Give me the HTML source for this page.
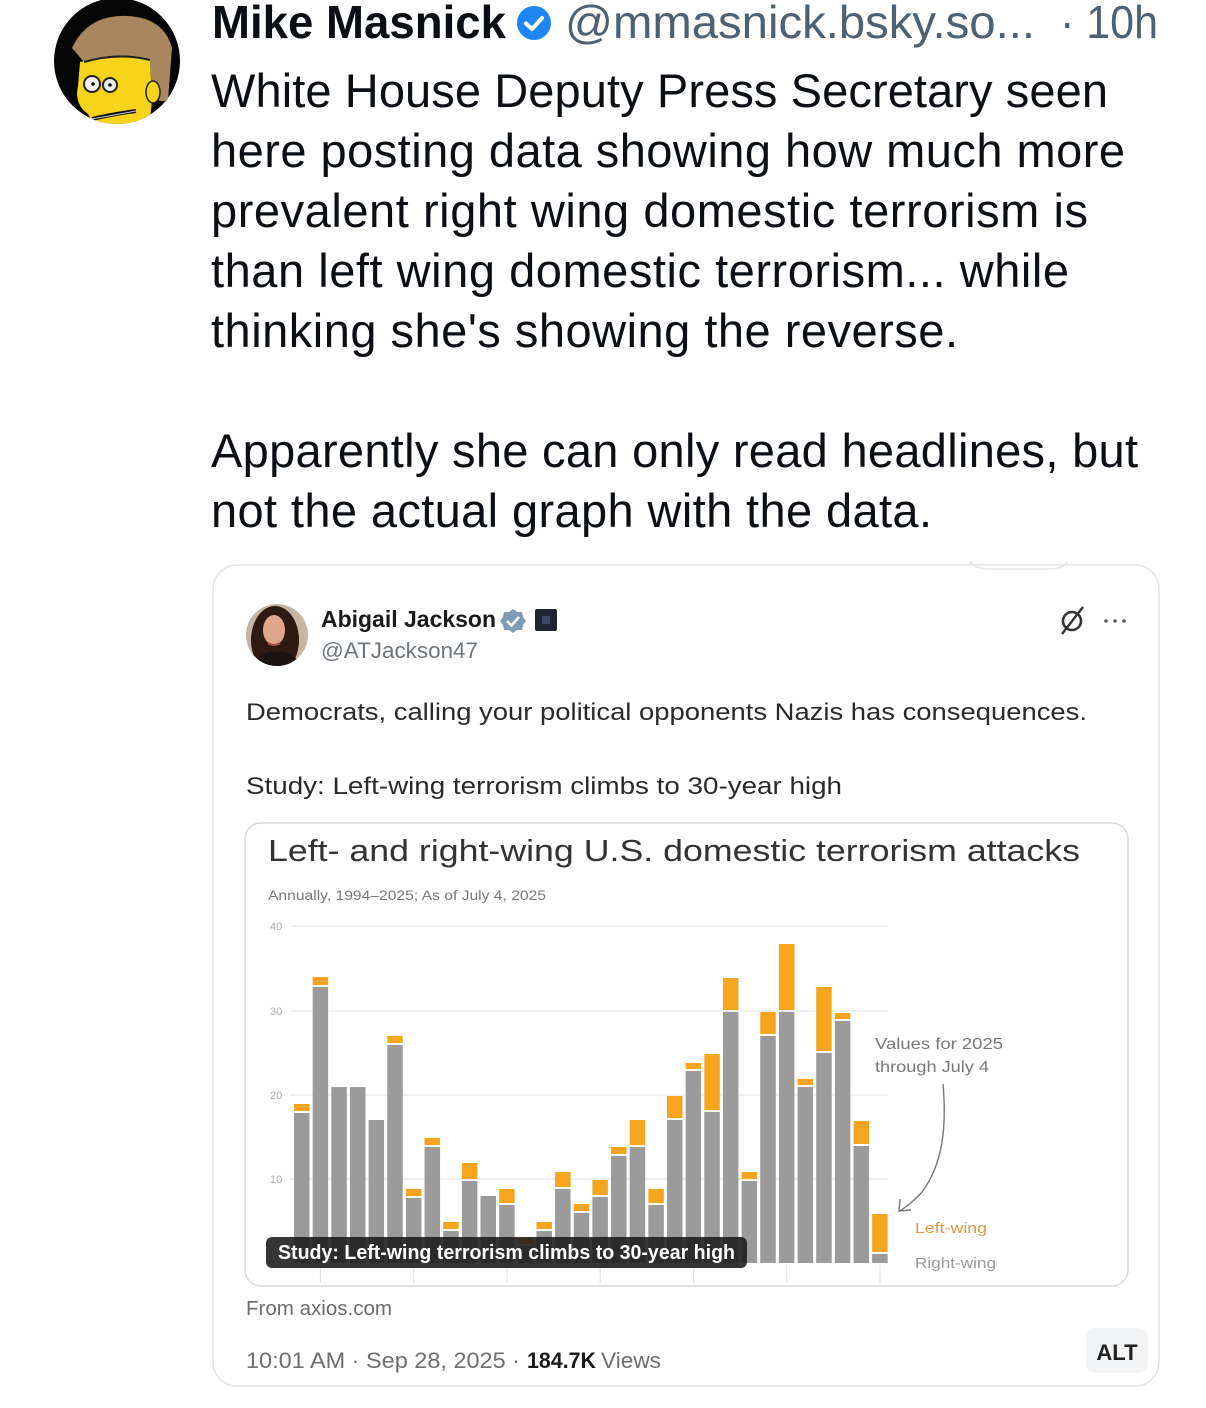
<!DOCTYPE html>
<html><head><meta charset="utf-8"><style>
html,body{margin:0;padding:0;background:#fff;}
svg{display:block;}
text{font-family:"Liberation Sans",Arial,sans-serif;}
</style></head><body>
<svg width="1206" height="1408" viewBox="0 0 1206 1408" xmlns="http://www.w3.org/2000/svg">
<defs>
<clipPath id="av1"><circle cx="117" cy="61" r="63"/></clipPath>
<clipPath id="av2"><circle cx="277" cy="635" r="31"/></clipPath>
</defs>
<rect width="1206" height="1408" fill="#fff"/>

<!-- Mike avatar -->
<g clip-path="url(#av1)">
<rect x="50" y="-5" width="135" height="135" fill="#050505"/>
<path d="M72 48 Q88 14 128 16 Q164 18 172 48 L168 100 Q158 104 152 94 L150 60 Q118 50 84 62 Z" fill="#a8865e"/>
<path d="M80 62 Q118 52 150 60 L152 100 Q150 126 144 142 L98 142 Q94 124 88 114 Q74 104 78 86 Z" fill="#f6d41a"/>
<ellipse cx="153" cy="92" rx="7" ry="11" fill="#f6d41a" stroke="#222" stroke-width="1.5"/>
<circle cx="92" cy="84" r="8" fill="#eee" stroke="#222" stroke-width="2"/>
<circle cx="110" cy="85" r="7" fill="#eee" stroke="#222" stroke-width="2"/>
<circle cx="93" cy="84" r="1.8" fill="#111"/>
<circle cx="110" cy="85" r="1.8" fill="#111"/>
<path d="M92 119 Q113 114 136 111" stroke="#111" stroke-width="4" fill="none"/>
<path d="M92 119 L136 111" stroke="#ccc" stroke-width="1" fill="none"/>
<path d="M84 62 Q118 52 150 60" stroke="#222" stroke-width="2" fill="none"/>
</g>

<!-- Header -->
<text x="212" y="38" font-size="46" font-weight="bold" fill="#0b0f14" textLength="294" lengthAdjust="spacingAndGlyphs">Mike Masnick</text>
<circle cx="534" cy="23" r="17" fill="#1c86f2"/>
<path d="M526 23.5 L532 29 L542 18" stroke="#fff" stroke-width="4" fill="none" stroke-linecap="round" stroke-linejoin="round"/>
<text x="565" y="38" font-size="46" fill="#4d6074" textLength="470" lengthAdjust="spacingAndGlyphs">@mmasnick.bsky.so...</text>
<text x="1060" y="38" font-size="46" fill="#4d6074" textLength="98" lengthAdjust="spacingAndGlyphs">· 10h</text>

<!-- Body text -->
<g font-size="47" fill="#0b0f14">
<text x="211" y="107" textLength="897" lengthAdjust="spacing">White House Deputy Press Secretary seen</text>
<text x="211" y="167" textLength="914" lengthAdjust="spacing">here posting data showing how much more</text>
<text x="211" y="227" textLength="877" lengthAdjust="spacing">prevalent right wing domestic terrorism is</text>
<text x="211" y="287" textLength="858" lengthAdjust="spacing">than left wing domestic terrorism... while</text>
<text x="211" y="347" textLength="747" lengthAdjust="spacing">thinking she's showing the reverse.</text>
<text x="211" y="467" textLength="927" lengthAdjust="spacing">Apparently she can only read headlines, but</text>
<text x="211" y="527" textLength="721" lengthAdjust="spacing">not the actual graph with the data.</text>
</g>

<!-- Outer card -->
<path d="M970 562 Q975 569 990 569 L1048 569 Q1063 569 1067 562" stroke="#e6e6e6" stroke-width="1.5" fill="none"/>
<rect x="213" y="565" width="946" height="821" rx="24" fill="none" stroke="#e3e3e3" stroke-width="1.5"/>

<!-- Abigail avatar -->
<g clip-path="url(#av2)">
<rect x="240" y="600" width="75" height="75" fill="#c8b4a2"/>
<ellipse cx="275" cy="640" rx="24" ry="34" fill="#2e1a11"/>
<ellipse cx="274" cy="630" rx="11" ry="15" fill="#dfa88d"/>
<path d="M250 668 Q262 650 276 652 Q292 650 304 668 Z" fill="#1c1414"/>
<path d="M268 643 Q274 647 280 643" stroke="#b04a45" stroke-width="2" fill="none"/>
</g>
<text x="321" y="627" font-size="23" font-weight="bold" fill="#1a1a1a" textLength="175" lengthAdjust="spacingAndGlyphs">Abigail Jackson</text>
<path d="M513 609 L517 612 L522 612 L523 617 L526 621 L523 625 L522 630 L517 630 L513 633 L509 630 L504 630 L503 625 L500 621 L503 617 L504 612 L509 612 Z" fill="#7f9ab5"/>
<path d="M507 621 L511.5 625.5 L519 617" stroke="#fff" stroke-width="2.5" fill="none"/>
<rect x="535" y="609" width="22" height="22" rx="2" fill="#1d2535"/>
<rect x="542" y="616" width="8" height="8" fill="#3a4a66"/>
<text x="321" y="658" font-size="22" fill="#6e767d" textLength="157" lengthAdjust="spacingAndGlyphs">@ATJackson47</text>
<circle cx="1072" cy="621" r="9" fill="none" stroke="#333" stroke-width="2.6"/>
<path d="M1062 634 L1083 607" stroke="#333" stroke-width="2.4"/>
<g fill="#555"><circle cx="1106" cy="621" r="1.8"/><circle cx="1115" cy="621" r="1.8"/><circle cx="1124" cy="621" r="1.8"/></g>

<text x="246" y="720" font-size="24" fill="#2a2a2a" textLength="841" lengthAdjust="spacingAndGlyphs">Democrats, calling your political opponents Nazis has consequences.</text>
<text x="246" y="794" font-size="24" fill="#2a2a2a" textLength="596" lengthAdjust="spacingAndGlyphs">Study: Left-wing terrorism climbs to 30-year high</text>

<!-- Inner chart card -->
<rect x="245" y="823" width="883" height="463" rx="16" fill="#fff" stroke="#dadada" stroke-width="1.5"/>
<text x="268" y="861" font-size="31" fill="#333" textLength="812" lengthAdjust="spacingAndGlyphs">Left- and right-wing U.S. domestic terrorism attacks</text>
<text x="268" y="900" font-size="14" fill="#777" textLength="278" lengthAdjust="spacingAndGlyphs">Annually, 1994–2025; As of July 4, 2025</text>

<!-- gridlines -->
<g stroke="#ebebeb" stroke-width="1.5">
<line x1="290" y1="926" x2="888" y2="926"/>
<line x1="290" y1="1011" x2="888" y2="1011"/>
<line x1="290" y1="1095" x2="888" y2="1095"/>
<line x1="290" y1="1179" x2="888" y2="1179"/>
</g>
<g font-size="11" fill="#aaa">
<text x="270" y="930">40</text>
<text x="270" y="1015">30</text>
<text x="270" y="1099">20</text>
<text x="270" y="1183">10</text>
</g>
<g stroke="#e3e3e3" stroke-width="1.2">
<line x1="320.5" y1="1265" x2="320.5" y2="1283"/>
<line x1="413.7" y1="1265" x2="413.7" y2="1283"/>
<line x1="507" y1="1265" x2="507" y2="1283"/>
<line x1="600.2" y1="1265" x2="600.2" y2="1283"/>
<line x1="693.5" y1="1265" x2="693.5" y2="1283"/>
<line x1="786.7" y1="1265" x2="786.7" y2="1283"/>
<line x1="880" y1="1265" x2="880" y2="1283"/>
</g>

<!-- bars -->
<g fill="#9b9b9b">
<rect x="294" y="1113" width="15.5" height="150"/>
<rect x="312.65" y="987" width="15.5" height="276"/>
<rect x="331.3" y="1087" width="15.5" height="176"/>
<rect x="349.95" y="1087" width="15.5" height="176"/>
<rect x="368.6" y="1120" width="15.5" height="143"/>
<rect x="387.25" y="1045" width="15.5" height="218"/>
<rect x="405.9" y="1198" width="15.5" height="65"/>
<rect x="424.55" y="1147" width="15.5" height="116"/>
<rect x="443.2" y="1231" width="15.5" height="32"/>
<rect x="461.85" y="1181" width="15.5" height="82"/>
<rect x="480.5" y="1196" width="15.5" height="67"/>
<rect x="499.15" y="1205" width="15.5" height="58"/>
<rect x="517.8" y="1246" width="15.5" height="17"/>
<rect x="536.45" y="1231" width="15.5" height="32"/>
<rect x="555.1" y="1189" width="15.5" height="74"/>
<rect x="573.75" y="1213" width="15.5" height="50"/>
<rect x="592.4" y="1197" width="15.5" height="66"/>
<rect x="611.05" y="1156" width="15.5" height="107"/>
<rect x="629.7" y="1147" width="15.5" height="116"/>
<rect x="648.35" y="1205" width="15.5" height="58"/>
<rect x="667" y="1120" width="15.5" height="143"/>
<rect x="685.65" y="1071" width="15.5" height="192"/>
<rect x="704.3" y="1112" width="15.5" height="151"/>
<rect x="722.95" y="1012" width="15.5" height="251"/>
<rect x="741.6" y="1181" width="15.5" height="82"/>
<rect x="760.25" y="1036" width="15.5" height="227"/>
<rect x="778.9" y="1012" width="15.5" height="251"/>
<rect x="797.55" y="1087" width="15.5" height="176"/>
<rect x="816.2" y="1053" width="15.5" height="210"/>
<rect x="834.85" y="1021" width="15.5" height="242"/>
<rect x="853.5" y="1146" width="15.5" height="117"/>
<rect x="872.15" y="1254" width="15.5" height="9"/>
</g>
<g fill="#f7a51e">
<rect x="294" y="1104" width="15.5" height="7"/>
<rect x="312.65" y="977" width="15.5" height="8"/>
<rect x="387.25" y="1036" width="15.5" height="7"/>
<rect x="405.9" y="1189" width="15.5" height="7"/>
<rect x="424.55" y="1138" width="15.5" height="7"/>
<rect x="443.2" y="1222" width="15.5" height="7"/>
<rect x="461.85" y="1163" width="15.5" height="16"/>
<rect x="499.15" y="1189" width="15.5" height="14"/>
<rect x="517.8" y="1238" width="15.5" height="6"/>
<rect x="536.45" y="1222" width="15.5" height="7"/>
<rect x="555.1" y="1172" width="15.5" height="15"/>
<rect x="573.75" y="1204" width="15.5" height="7"/>
<rect x="592.4" y="1180" width="15.5" height="15"/>
<rect x="611.05" y="1147" width="15.5" height="7"/>
<rect x="629.7" y="1120" width="15.5" height="25"/>
<rect x="648.35" y="1189" width="15.5" height="14"/>
<rect x="667" y="1096" width="15.5" height="22"/>
<rect x="685.65" y="1063" width="15.5" height="6"/>
<rect x="704.3" y="1054" width="15.5" height="56"/>
<rect x="722.95" y="978" width="15.5" height="32"/>
<rect x="741.6" y="1172" width="15.5" height="7"/>
<rect x="760.25" y="1012" width="15.5" height="22"/>
<rect x="778.9" y="944" width="15.5" height="66"/>
<rect x="797.55" y="1079" width="15.5" height="6"/>
<rect x="816.2" y="987" width="15.5" height="64"/>
<rect x="834.85" y="1013" width="15.5" height="6"/>
<rect x="853.5" y="1121" width="15.5" height="23"/>
<rect x="872.15" y="1214" width="15.5" height="38"/>
</g>

<!-- annotation -->
<text x="875" y="1049" font-size="16" fill="#777" textLength="128" lengthAdjust="spacingAndGlyphs">Values for 2025</text>
<text x="875" y="1072" font-size="16" fill="#777" textLength="114" lengthAdjust="spacingAndGlyphs">through July 4</text>
<path d="M943 1084 C947 1130 942 1165 922 1192 C914 1201 907 1206 900 1211" stroke="#777" stroke-width="1.4" fill="none"/>
<path d="M900 1199 L899 1211 L911 1210" stroke="#777" stroke-width="1.4" fill="none"/>
<text x="915" y="1233" font-size="14.5" fill="#d99a45" textLength="72" lengthAdjust="spacingAndGlyphs">Left-wing</text>
<text x="915" y="1268" font-size="14.5" fill="#999" textLength="81" lengthAdjust="spacingAndGlyphs">Right-wing</text>

<!-- caption overlay -->
<rect x="266" y="1237" width="481" height="31" rx="6" fill="#1f1f1f" fill-opacity="0.9"/>
<text x="278" y="1259" font-size="20" font-weight="bold" fill="#fff" textLength="457" lengthAdjust="spacingAndGlyphs">Study: Left-wing terrorism climbs to 30-year high</text>

<!-- footer -->
<text x="246" y="1315" font-size="20" fill="#6b6b6b" textLength="146" lengthAdjust="spacingAndGlyphs">From axios.com</text>
<text x="246" y="1368" font-size="22" fill="#6e6e6e" textLength="274" lengthAdjust="spacingAndGlyphs">10:01 AM · Sep 28, 2025 ·</text>
<text x="527" y="1368" font-size="22" font-weight="bold" fill="#1a1a1a" textLength="69" lengthAdjust="spacingAndGlyphs">184.7K</text>
<text x="601" y="1368" font-size="22" fill="#6e6e6e" textLength="60" lengthAdjust="spacingAndGlyphs">Views</text>

<rect x="1086" y="1328" width="62" height="45" rx="10" fill="#f1f3f5"/>
<text x="1117" y="1360" font-size="22" font-weight="bold" fill="#222" text-anchor="middle">ALT</text>
</svg>
</body></html>
